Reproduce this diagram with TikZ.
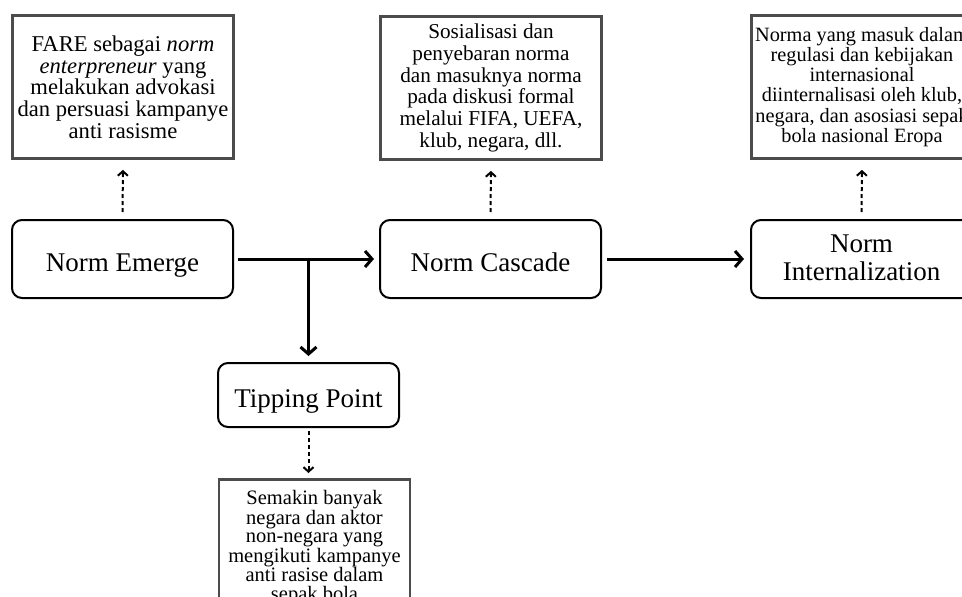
\documentclass[tikz,border=0pt]{standalone}
\usepackage{fontspec}
\setmainfont{Liberation Serif}
\usetikzlibrary{arrows.meta}

\begin{document}
\begin{tikzpicture}[x=1pt, y=-1pt,
    stage/.style={draw, rounded corners=10pt, line width=2pt, minimum width=221pt, minimum height=78pt, align=center, font=\fontsize{27}{28}\selectfont},
    oneline/.style={text height=24pt, text depth=0pt},
    note/.style={draw=black!70, line width=2.8pt, minimum width=221pt, minimum height=143pt, align=center, inner sep=2pt},
    flow/.style={-{Straight Barb[length=7pt, width=16pt]}, line width=3pt},
    hint/.style={-{Straight Barb[length=4.5pt, width=10pt]}, line width=2pt, dash pattern=on 4pt off 3pt}]
        \useasboundingbox (0,0) rectangle (962,597);
        \node[note, font=\fontsize{22.6}{21.7}\selectfont] (fare) at (123,87) {FARE sebagai \textit{norm}\\\textit{enterpreneur} yang\\melakukan advokasi\\dan persuasi kampanye\\anti rasisme};
        \node[note, font=\fontsize{21.2}{21.7}\selectfont] (sosial) at (491,88) {Sosialisasi dan\\penyebaran norma\\dan masuknya norma\\pada diskusi formal\\melalui FIFA, UEFA,\\klub, negara, dll.};
        \node[note, font=\fontsize{20.3}{20.2}\selectfont] (regul) at (862,87) {Norma yang masuk dalam\\regulasi dan kebijakan\\internasional\\diinternalisasi oleh klub,\\negara, dan asosiasi sepak\\bola nasional Eropa};
        \node[stage, oneline] (emerge) at (122.5,259) {Norm Emerge};
        \node[stage, oneline] (cascade) at (490.5,259) {Norm Cascade};
        \node[stage, text depth=3pt] (intern) at (861.5,259) {Norm\\Internalization};
        \node[stage, oneline, minimum width=181pt, minimum height=64pt] (tipping) at (308.5,395) {Tipping Point};
        \node[note, anchor=north, minimum width=191pt, minimum height=0pt, inner xsep=2pt, inner ysep=11pt, font=\fontsize{20.5}{18.4}\selectfont] (semakin) at (314.5,478) {Semakin banyak\\negara dan aktor\\non-negara yang\\mengikuti kampanye\\anti rasise dalam\\sepak bola};
        \draw[flow, shorten <=4pt, shorten >=5pt] (emerge) to (cascade);
        \draw[flow, shorten <=5pt, shorten >=6pt] (cascade) to (intern);
        \draw[flow, shorten >=6pt] (tipping.north |- emerge) to (tipping);
        \draw[hint, shorten <=7pt, shorten >=10pt] (emerge.north) to (fare.south);
        \draw[hint, shorten <=7pt, shorten >=10pt] (cascade.north) to (sosial.south);
        \draw[hint, shorten <=7pt, shorten >=10pt] (intern.north) to (regul.south);
        \draw[hint, shorten <=3pt, shorten >=5pt] (tipping.south) to (tipping.south |- semakin.north);
      \end{tikzpicture}
\end{document}
